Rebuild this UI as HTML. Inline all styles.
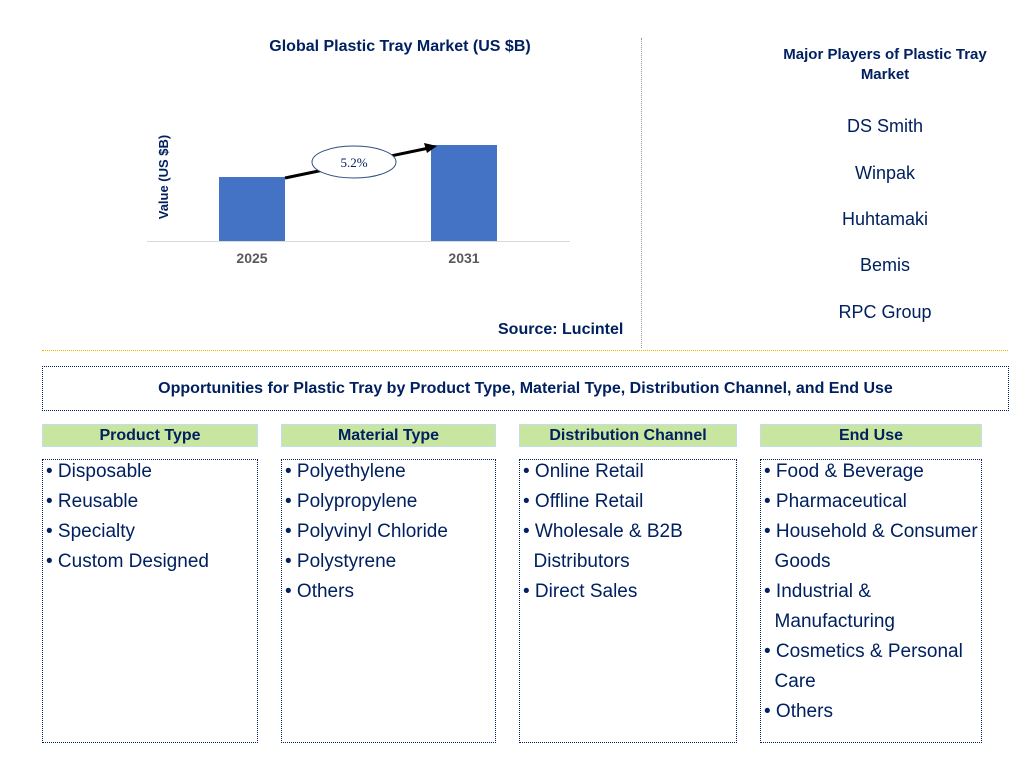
<!DOCTYPE html>
<html><head><meta charset="utf-8"><style>
body{margin:0;width:1035px;height:767px;background:#fff;font-family:"Liberation Sans",Arial,sans-serif;color:#002060;position:relative;overflow:hidden}
.a{position:absolute}
.hdr{position:absolute;top:424px;height:23px;background:#c8e6a0;border:1px solid #c5dcf0;box-sizing:border-box;text-align:center;font-weight:bold;font-size:16px;line-height:22px}
.box{position:absolute;top:459px;height:284px;border:1px dotted #002060;box-sizing:border-box;font-size:19px;line-height:30px;padding:0 0 0 3px}
.box div{white-space:nowrap;position:relative;top:-3px}
.pl{position:absolute;left:760px;width:250px;text-align:center;font-size:18px}
</style></head><body>
<div class="a" style="left:200px;top:38px;width:400px;text-align:center;font-weight:bold;font-size:16px">Global Plastic Tray Market (US $B)</div>
<svg class="a" style="left:0;top:0" width="640" height="350">
<g id="g"></g>
<text x="168" y="177" transform="rotate(-90 168 177)" text-anchor="middle" font-size="13" font-weight="bold" fill="#002060" font-family="Liberation Sans">Value (US $B)</text>
</svg>
<div class="a" style="left:498px;top:321px;font-weight:bold;font-size:16px">Source: Lucintel</div>
<div class="a" style="left:641px;top:38px;height:310px;border-left:1px dotted #999"></div>
<div class="a" style="left:42px;top:350px;width:966px;border-top:1px dotted #f0b000"></div>
<div class="pl" style="top:45px;font-weight:bold;font-size:15px;line-height:20px">Major Players of Plastic Tray<br>Market</div>
<div class="pl" style="top:116px">DS Smith</div>
<div class="pl" style="top:163px">Winpak</div>
<div class="pl" style="top:209px">Huhtamaki</div>
<div class="pl" style="top:255px">Bemis</div>
<div class="pl" style="top:302px">RPC Group</div>
<div class="a" style="left:42px;top:366px;width:967px;height:45px;box-sizing:border-box;border:1px dotted #002060;text-align:center;font-weight:bold;font-size:16px;line-height:43px">Opportunities for Plastic Tray by Product Type, Material Type, Distribution Channel, and End Use</div>
<div class="hdr" style="left:42px;width:216px">Product Type</div>
<div class="hdr" style="left:281px;width:215px">Material Type</div>
<div class="hdr" style="left:519px;width:218px">Distribution Channel</div>
<div class="hdr" style="left:760px;width:222px">End Use</div>
<div class="box" style="left:42px;width:216px"><div>• Disposable</div><div>• Reusable</div><div>• Specialty</div><div>• Custom Designed</div></div>
<div class="box" style="left:281px;width:215px"><div>• Polyethylene</div><div>• Polypropylene</div><div>• Polyvinyl Chloride</div><div>• Polystyrene</div><div>• Others</div></div>
<div class="box" style="left:519px;width:218px"><div>• Online Retail</div><div>• Offline Retail</div><div>• Wholesale &amp; B2B</div><div>&nbsp;&nbsp;Distributors</div><div>• Direct Sales</div></div>
<div class="box" style="left:760px;width:222px"><div>• Food &amp; Beverage</div><div>• Pharmaceutical</div><div>• Household &amp; Consumer</div><div>&nbsp;&nbsp;Goods</div><div>• Industrial &amp;</div><div>&nbsp;&nbsp;Manufacturing</div><div>• Cosmetics &amp; Personal</div><div>&nbsp;&nbsp;Care</div><div>• Others</div></div>
<script>
const categories=["2025","2031"];
const values=[2.0,3.0];
const cagrLabel="5.2%";
const NS="http://www.w3.org/2000/svg";
const g=document.getElementById("g");
const base=241,ppu=32,barW=66;
const xc=i=>252+i*212;
const y=v=>base-v*ppu;
function mk(t,a){const e=document.createElementNS(NS,t);for(const k in a)e.setAttribute(k,a[k]);g.appendChild(e);return e;}
const ax=mk("line",{x1:147,x2:570,y1:base+0.5,y2:base+0.5,stroke:"#d9d9d9"});


categories.forEach((c,i)=>{
const r=mk("rect",{x:xc(i)-barW/2,y:y(values[i]),width:barW,height:values[i]*ppu,fill:"#4472c4"});


const t=mk("text",{x:xc(i),y:base+22,"text-anchor":"middle","font-size":14,"font-weight":"bold",fill:"#595959","font-family":"Liberation Sans"});
t.textContent=c;


});
const x1=xc(0)+barW/2,y1=y(values[0])+1,x2=xc(1)-barW/2+6,y2=y(values[1])+1;
const ar=mk("line",{x1:x1,y1:y1,x2:x2-8,y2:y2+2,stroke:"#000","stroke-width":3});


const hd=mk("polygon",{points:`${x2},${y2} ${x2-13},${y2-3} ${x2-10},${y2+7}`,fill:"#000"});


const cx=(x1+x2)/2-7,cy=(y1+y2)/2;
const el=mk("ellipse",{cx:cx,cy:cy,rx:42,ry:16,fill:"#fff",stroke:"#2f4f7f"});


const ct=mk("text",{x:cx,y:cy+5,"text-anchor":"middle","font-size":13,fill:"#002060","font-family":"Liberation Serif"});
ct.textContent=cagrLabel;


</script>
</body></html>
